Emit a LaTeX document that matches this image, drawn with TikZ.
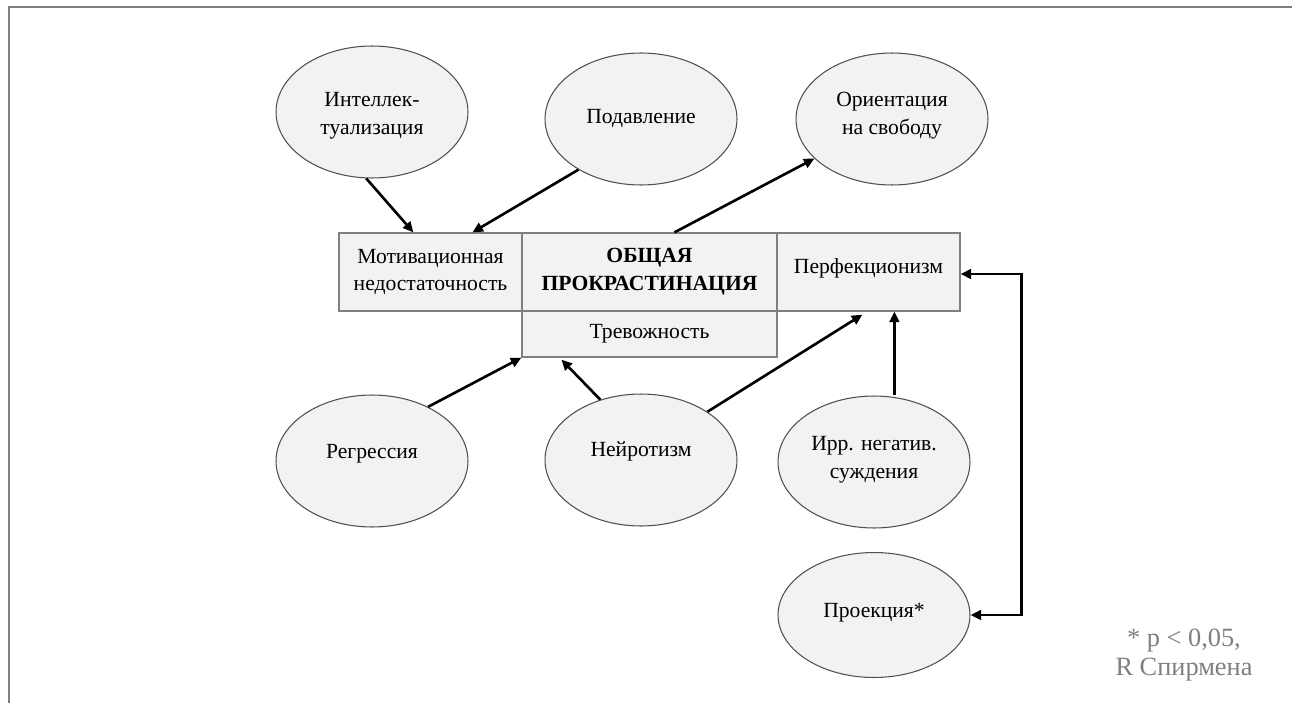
\documentclass[tikz,border=0pt]{standalone}
\usepackage{fontspec}
\setmainfont{Liberation Serif}
\usetikzlibrary{shapes.geometric,arrows.meta,calc}
\definecolor{fillg}{HTML}{F2F2F2}
\definecolor{edgeg}{HTML}{505050}
\definecolor{boxg}{HTML}{7F7F7F}
\definecolor{noteg}{HTML}{7F7F7F}
\tikzset{
  oval/.style={ellipse,draw=edgeg,fill=fillg,line width=0.6pt,minimum width=3.84cm,minimum height=2.64cm,inner sep=0pt},
  txt/.style={align=center,inner sep=0pt,font=\fontsize{12.3}{15.9}\selectfont},
  boxn/.style={rectangle,draw=boxg,fill=fillg,line width=0.7pt,inner sep=0pt,align=center,font=\fontsize{12.3}{15.9}\selectfont},
  arr/.style={line width=1.5pt,-{Triangle[length=6pt,width=5.5pt]}},
  arrtwo/.style={line width=1.5pt,{Triangle[length=6pt,width=5.5pt]}-{Triangle[length=6pt,width=5.5pt]}},
}
\begin{document}
\begin{tikzpicture}[x=0.02cm,y=-0.02cm]
\useasboundingbox (0,0) rectangle (1292,703);
% frame
\draw[draw=boxg,line width=0.9pt] (9,703) -- (9,7) -- (1292,7);
% ellipses
\node[oval] (intel) at (372,112) {};
\node[txt] (intelT) at (372,116) {Интеллек-\\туализация};
\node[oval] (podav) at (641,119) {};
\node[txt] (podavT) at (641,119) {Подавление};
\node[oval] (orient) at (892,119) {};
\node[txt] (orientT) at (892,116) {Ориентация\\на свободу};
\node[oval] (regr) at (372,461) {};
\node[txt] (regrT) at (372,454) {Регрессия};
\node[oval] (neuro) at (641,460) {};
\node[txt] (neuroT) at (641,451) {Нейротизм};
\node[oval] (irr) at (874,462) {};
\node[txt] (irrT) at (874,460) {Ирр. негатив.\\суждения};
\node[oval,minimum height=2.5cm] (proj) at (874,615) {};
\node[txt] (projT) at (874,613) {Проекция*};
% boxes
\node[boxn,minimum width=3.66cm,minimum height=1.56cm] (motiv) at (430.5,272) {Мотивационная\\недостаточность};
\node[boxn,minimum width=5.1cm,minimum height=1.56cm,font=\fontsize{12.3}{15.9}\selectfont\bfseries] (obsh) at (649.5,272) {ОБЩАЯ\\ПРОКРАСТИНАЦИЯ};
\node[boxn,minimum width=5.1cm,minimum height=0.92cm] (trev) at (649.5,334) {Тревожность};
\node[boxn,minimum width=3.66cm,minimum height=1.56cm] (perf) at (868.5,272) {};
\node[txt] (perfT) at (868.5,268) {Перфекционизм};
% note
\node[align=center,inner sep=0pt,text=noteg,font=\fontsize{15}{17}\selectfont] (note) at (1184,655) {* p < 0,05,\\R Спирмена};
% arrows
\draw[arr] (intel.265) -- ($(motiv.north west)+(75,0)$);
\draw[arr] (podav.219) -- ($(motiv.north west)+(134,0)$);
\draw[arr] ($(obsh.north west)+(153,0)$) -- (orient.207);
\draw[arr] (regr.44) -- (trev.south west);
\draw[arr] (neuro.124) -- ($(trev.south west)+(40,2)$);
\draw[arr] (neuro.36) -- ($(perf.south west)+(86,3)$);
\coordinate (pb) at ($(perf.south west)+(118,0)$);
\draw[arr] (pb |- irr.north) -- (pb);
\draw[arrtwo] ($(perf.east)+(0,2)$) -- ++(61,0) |- (proj.east);
\end{tikzpicture}
\end{document}
